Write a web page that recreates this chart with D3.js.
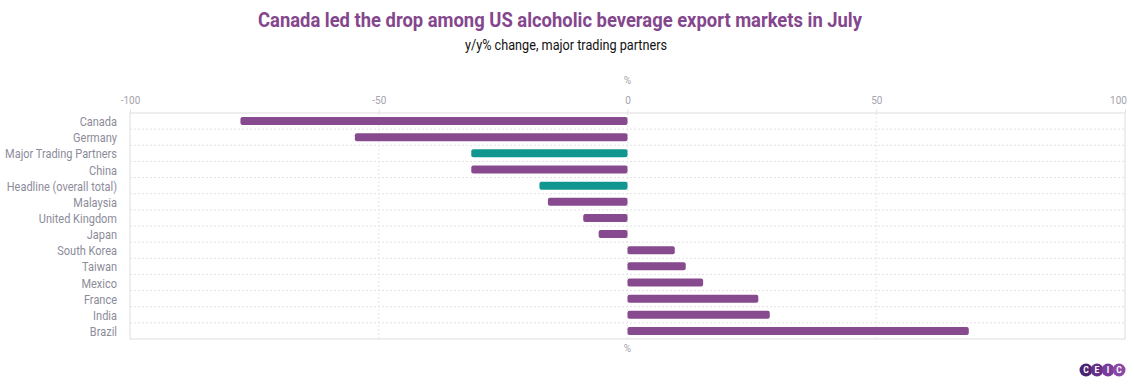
<!DOCTYPE html>
<html>
<head>
<meta charset="utf-8">
<script src="https://cdn.jsdelivr.net/npm/d3@7"></script>
<style>
  body { margin: 0; background: #fff; }
  svg { display: block; font-family: Roboto, "Noto Sans", sans-serif; }
</style>
</head>
<body>
<div id="chart"></div>
<script>
// y/y % change, July
var countries = ["Canada", "Germany", "Major Trading Partners", "China", "Headline (overall total)",
  "Malaysia", "United Kingdom", "Japan", "South Korea", "Taiwan", "Mexico", "France", "India", "Brazil"];
var changes = [-77.8, -54.8, -31.4, -31.4, -17.7, -16.0, -8.9, -5.8, 9.5, 11.7, 15.2, 26.3, 28.6, 68.6];
var aggregates = ["Major Trading Partners", "Headline (overall total)"];
var xTicks = [-100, -50, 0, 50, 100];

var width = 1134, height = 385;
var margin = {top: 113, right: 9, bottom: 46, left: 130};

var purple = "#874a8e", teal = "#129690";

var data = countries.map(function(c, i) { return {name: c, value: changes[i]}; });

var svg = d3.select("#chart").append("svg")
  .attr("width", width)
  .attr("height", height);

var x = d3.scaleLinear().domain([-100, 100]).range([margin.left, width - margin.right]);
var y = d3.scaleBand().domain(countries).range([margin.top, height - margin.bottom]).padding(0);

// title + subtitle
svg.append("text")
  .attr("x", 560).attr("y", 27)
  .attr("text-anchor", "middle")
  .attr("textLength", 604).attr("lengthAdjust", "spacingAndGlyphs")
  .style("font-size", "21px").style("font-weight", "bold")
  .style("fill", "#84468d")
  .text("Canada led the drop among US alcoholic beverage export markets in July");

svg.append("text")
  .attr("x", 566).attr("y", 50)
  .attr("text-anchor", "middle")
  .attr("textLength", 202).attr("lengthAdjust", "spacingAndGlyphs")
  .style("font-size", "14px")
  .style("fill", "#111")
  .text("y/y% change, major trading partners");

// horizontal dotted gridlines between rows
var grid = svg.append("g");
countries.slice(1).forEach(function(c) {
  grid.append("line")
    .attr("x1", x(-100)).attr("x2", x(100))
    .attr("y1", y(c)).attr("y2", y(c))
    .style("stroke", "#e2e2e2").style("stroke-dasharray", "2,2");
});
// vertical dashed gridlines
xTicks.slice(1, -1).forEach(function(t) {
  grid.append("line")
    .attr("x1", x(t)).attr("x2", x(t))
    .attr("y1", margin.top).attr("y2", height - margin.bottom)
    .style("stroke", "#e6e6e6").style("stroke-dasharray", "2,2");
});

// frame
svg.append("rect")
  .attr("x", x(-100)).attr("y", margin.top)
  .attr("width", x(100) - x(-100)).attr("height", height - margin.bottom - margin.top)
  .style("fill", "none").style("stroke", "#e3e3e3").style("stroke-width", 1.2);

// top axis
var xAxis = d3.axisTop(x).tickValues(xTicks).tickSize(4).tickFormat(function(d) { return String(d); });
var ax = svg.append("g")
  .attr("transform", "translate(0," + margin.top + ")")
  .call(xAxis);
ax.select(".domain").remove();
ax.selectAll(".tick line").style("stroke", "#e3e3e3");
ax.selectAll(".tick text")
  .attr("y", -9)
  .attr("dx", function(d) { return d === 100 ? -7 : 0; })
  .style("font-family", "Roboto, sans-serif")
  .style("font-size", "10px").style("fill", "#a4a4ad");

svg.append("text")
  .attr("x", x(0)).attr("y", 84).attr("text-anchor", "middle")
  .style("font-size", "10px").style("fill", "#a4a4ad").text("%");
svg.append("text")
  .attr("x", x(0)).attr("y", 352).attr("text-anchor", "middle")
  .style("font-size", "10px").style("fill", "#a4a4ad").text("%");

// category labels (condensed look)
var squeeze = 0.88;
var yAxis = d3.axisLeft(y).tickSize(0).tickPadding(13);
var ay = svg.append("g")
  .attr("transform", "translate(" + margin.left + ",0)")
  .call(yAxis);
ay.select(".domain").remove();
ay.selectAll(".tick text")
  .attr("x", -13 / squeeze)
  .attr("dy", "0.4em")
  .attr("transform", "scale(" + squeeze + ",1)")
  .style("font-family", "Roboto, sans-serif")
  .style("font-size", "12.5px").style("fill", "#8c8c9a");

// bars
var bh = 8;
svg.append("g").selectAll("rect")
  .data(data).enter()
  .append("rect")
  .attr("x", function(d) { return x(Math.min(0, d.value)); })
  .attr("y", function(d) { return y(d.name) + y.bandwidth() / 2 - bh / 2; })
  .attr("width", function(d) { return Math.abs(x(d.value) - x(0)); })
  .attr("height", bh)
  .attr("rx", 2)
  .style("fill", function(d) { return aggregates.indexOf(d.name) >= 0 ? teal : purple; });

// CEIC logo
var logo = svg.append("g").attr("transform", "translate(1086,370)");
var letters = ["C", "E", "I", "C"];
var logoColors = ["#4b2470", "#66308a", "#7a3c99", "#8a48a6"];
letters.forEach(function(l, i) {
  logo.append("circle").attr("cx", i * 11).attr("cy", 0).attr("r", 6.5).style("fill", logoColors[i]);
  logo.append("text").attr("x", i * 11).attr("y", 3.2).attr("text-anchor", "middle")
    .style("font-size", "8.5px").style("font-weight", "bold").style("fill", "#fff").text(l);
});
</script>
</body>
</html>
